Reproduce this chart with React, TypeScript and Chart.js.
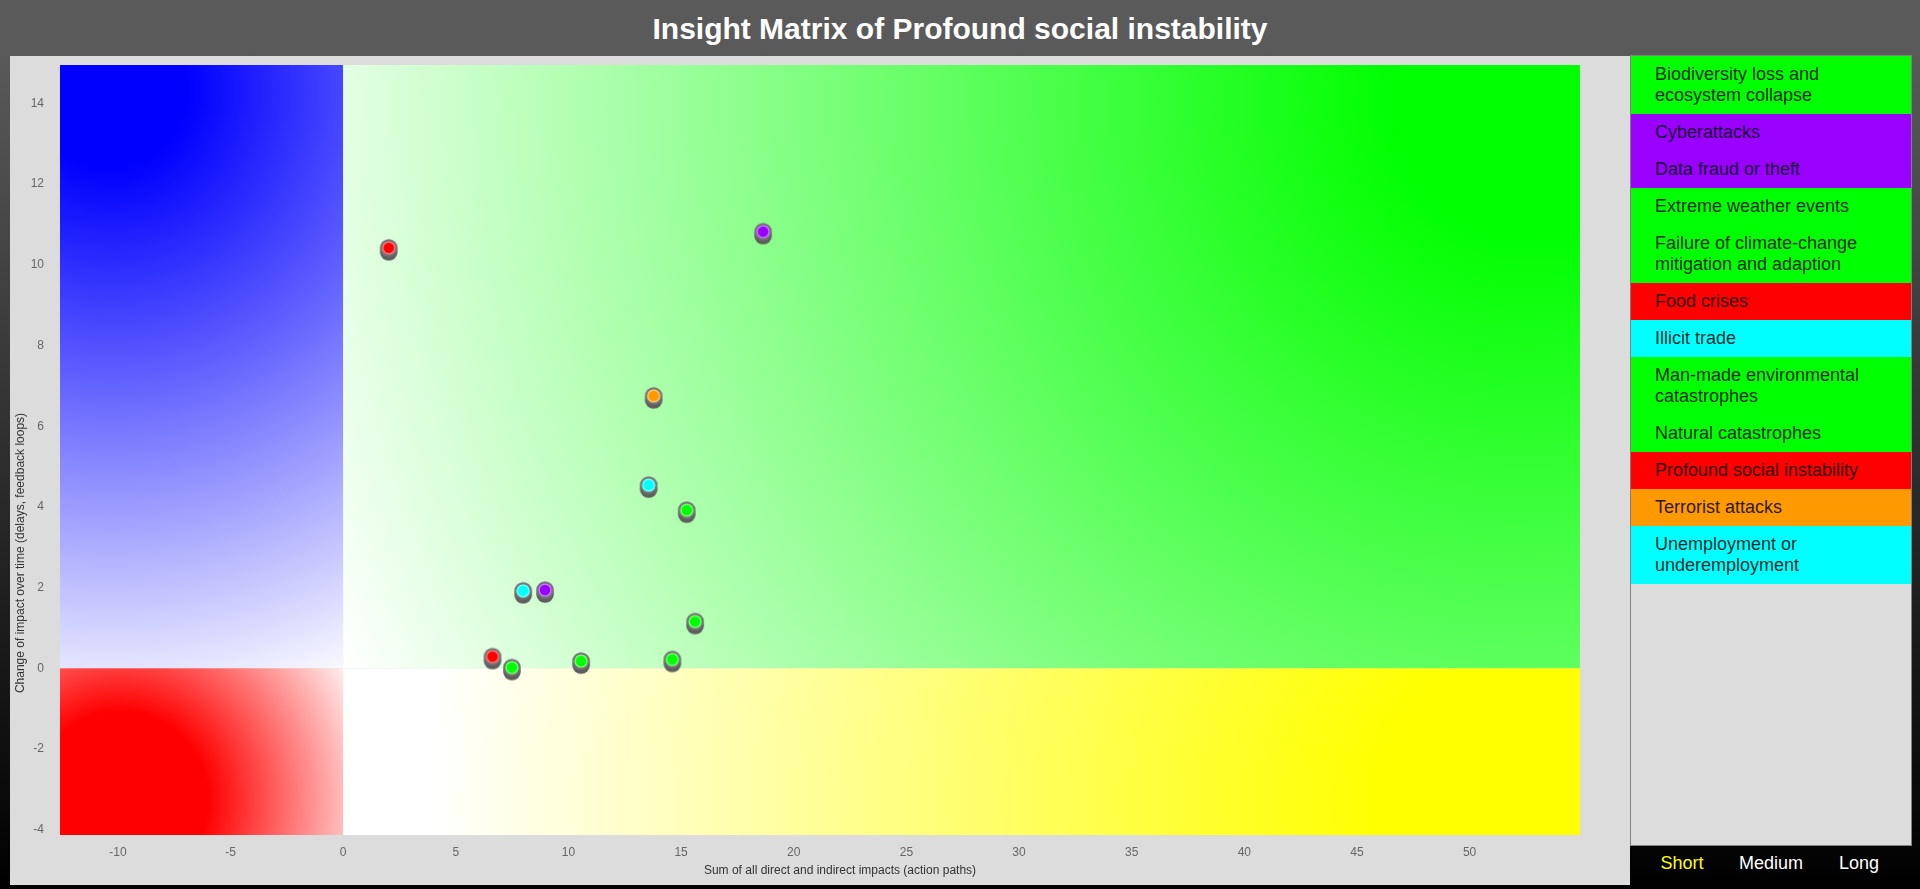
import React, { useEffect, useRef } from "react";
import { Chart, registerables } from "chart.js";

Chart.register(...registerables);

const FONT = "'Liberation Sans', Arial, Helvetica, sans-serif";

const CHART_TITLE = "Insight Matrix of Profound social instability";
const X_TITLE = "Sum of all direct and indirect impacts (action paths)";
const Y_TITLE = "Change of impact over time (delays, feedback loops)";

const RISKS = [
  "Biodiversity loss and ecosystem collapse",
  "Cyberattacks",
  "Data fraud or theft",
  "Extreme weather events",
  "Failure of climate-change mitigation and adaption",
  "Food crises",
  "Illicit trade",
  "Man-made environmental catastrophes",
  "Natural catastrophes",
  "Profound social instability",
  "Terrorist attacks",
  "Unemployment or underemployment",
];
const RISK_COLORS = [
  "#00ff00",
  "#9900ff",
  "#9900ff",
  "#00ff00",
  "#00ff00",
  "#ff0000",
  "#00ffff",
  "#00ff00",
  "#00ff00",
  "#ff0000",
  "#ff9900",
  "#00ffff",
];
const X_VALUES = [14.61, 18.64, 8.96, 15.25, 15.62, 6.63, 7.99, 10.56, 7.49, 2.02, 13.78, 13.56];
const Y_VALUES = [0.22, 10.82, 1.94, 3.92, 1.16, 0.29, 1.92, 0.18, 0.02, 10.42, 6.75, 4.54];

const X_MIN = -12.57;
const X_MAX = 54.9;
const X_STEP = 5;
const Y_MIN = -4.13;
const Y_MAX = 14.95;
const Y_STEP = 2;

const HORIZONS = ["Short", "Medium", "Long"];
const HORIZON_COLORS = ["#ffff00", "#ffffff", "#ffffff"];

function makeButton(color: string): HTMLCanvasElement {
  const c = document.createElement("canvas");
  c.width = 20;
  c.height = 30;
  const g = c.getContext("2d")!;
  const cx = 10;
  const cy = 15;
  g.fillStyle = "#5e5e5e";
  g.beginPath();
  g.arc(cx, cy + 4, 8.8, 0, Math.PI * 2);
  g.fill();
  g.fillStyle = "#747474";
  g.beginPath();
  g.arc(cx, cy, 8.8, 0, Math.PI * 2);
  g.fill();
  g.fillStyle = color;
  g.beginPath();
  g.arc(cx, cy, 6.6, 0, Math.PI * 2);
  g.fill();
  g.fillStyle = "rgba(255,255,255,0.5)";
  g.beginPath();
  g.arc(cx, cy, 6.6, 0, Math.PI * 2);
  g.fill();
  g.fillStyle = color;
  g.beginPath();
  g.arc(cx, cy, 5.3, 0, Math.PI * 2);
  g.fill();
  return c;
}

const quadrantPlugin = {
  id: "quadrants",
  beforeDatasetsDraw(chart: any) {
    const { ctx, chartArea: a, scales } = chart;
    const x0 = scales.x.getPixelForValue(0);
    const y0 = scales.y.getPixelForValue(0);
    const fillQuad = (
      rx: number, ry: number, rw: number, rh: number,
      cx: number, cy: number, r0: number, r1: number, color: string
    ) => {
      const g = ctx.createRadialGradient(cx, cy, 0, cx, cy, r1);
      g.addColorStop(0, color);
      g.addColorStop(r0 / r1, color);
      g.addColorStop(1, "#ffffff");
      ctx.fillStyle = g;
      ctx.fillRect(rx, ry, rw, rh);
    };
    ctx.save();
    fillQuad(a.left, a.top, x0 - a.left, y0 - a.top, a.left + 50, a.top + 25, 78, 637, "#0000ff");
    fillQuad(a.left, y0, x0 - a.left, a.bottom - y0, a.left + 60, a.bottom - 35, 88, 272, "#ff0000");
    fillQuad(x0, a.top, a.right - x0, y0 - a.top, a.right - 50, a.top + 35, 132, 1315, "#00ff00");
    fillQuad(x0, y0, a.right - x0, a.bottom - y0, a.right - 50, a.bottom - 35, 150, 1100, "#ffff00");
    ctx.restore();
  },
};

const axisTitlePlugin = {
  id: "axisTitles",
  afterDraw(chart: any) {
    const { ctx, chartArea: a } = chart;
    ctx.save();
    ctx.font = `12px ${FONT}`;
    ctx.fillStyle = "#333333";
    ctx.textAlign = "center";
    ctx.textBaseline = "middle";
    ctx.fillText(X_TITLE, (a.left + a.right) / 2 + 20, a.bottom + 36);
    ctx.translate(11, (a.top + a.bottom) / 2 + 103);
    ctx.rotate(-Math.PI / 2);
    ctx.fillText(Y_TITLE, 0, 0);
    ctx.restore();
  },
};

function MatrixChart() {
  const ref = useRef<HTMLCanvasElement | null>(null);
  useEffect(() => {
    if (!ref.current) return;
    Chart.defaults.font.family = FONT;
    const points = X_VALUES.map((x, i) => ({ x, y: Y_VALUES[i] }));
    const chart = new Chart(ref.current, {
      type: "scatter",
      data: {
        labels: RISKS,
        datasets: [
          {
            label: CHART_TITLE,
            data: points,
            pointStyle: RISK_COLORS.map(makeButton) as any,
            pointRadius: 8,
            pointHoverRadius: 8,
            backgroundColor: RISK_COLORS,
          },
        ],
      },
      options: {
        animation: false,
        responsive: false,
        devicePixelRatio: 1,
        layout: { padding: { top: 9, right: 50, left: 0, bottom: 0 } },
        plugins: {
          legend: { display: false },
          tooltip: { enabled: false },
          title: { display: false },
        },
        scales: {
          x: {
            type: "linear",
            min: X_MIN,
            max: X_MAX,
            afterFit: (s: any) => {
              s.height = 50;
              s.paddingLeft = 0;
              s.paddingRight = 0;
            },
            grid: { display: false, drawTicks: false },
            border: { display: false },
            ticks: {
              stepSize: X_STEP,
              includeBounds: false,
              padding: 10,
              color: "#666666",
              maxRotation: 0,
              font: { size: 12, family: FONT },
            },
          },
          y: {
            type: "linear",
            min: Y_MIN,
            max: Y_MAX,
            afterFit: (s: any) => {
              s.width = 50;
              s.paddingTop = 0;
              s.paddingBottom = 0;
            },
            grid: { display: false, drawTicks: false },
            border: { display: false },
            ticks: {
              stepSize: Y_STEP,
              includeBounds: false,
              padding: 16,
              color: "#666666",
              font: { size: 12, family: FONT },
            },
          },
        },
      } as any,
      plugins: [quadrantPlugin, axisTitlePlugin],
    });
    return () => chart.destroy();
  }, []);
  return <canvas ref={ref} width={1620} height={829} style={{ display: "block" }} />;
}

export default function App() {
  return (
    <div
      style={{
        position: "fixed",
        left: 0,
        top: 0,
        width: 1920,
        height: 889,
        overflow: "hidden",
        background: "linear-gradient(to bottom, #5a5a5a 0px, #5a5a5a 50px, #000000 889px)",
        fontFamily: FONT,
      }}
    >
      <div
        style={{
          position: "absolute",
          left: 0,
          top: 14,
          width: 1920,
          textAlign: "center",
          color: "#ffffff",
          fontWeight: "bold",
          fontSize: 30,
          lineHeight: "30px",
        }}
      >
        {CHART_TITLE}
      </div>
      <div
        style={{
          position: "absolute",
          left: 10,
          top: 56,
          width: 1620,
          height: 829,
          background: "#dcdcdc",
        }}
      >
        <MatrixChart />
      </div>
      <div
        style={{
          position: "absolute",
          left: 1630,
          top: 55,
          width: 282,
          height: 791,
          boxSizing: "border-box",
          border: "1px solid #808080",
          background: "#dcdcdc",
        }}
      >
        {RISKS.map((r, i) => (
          <div
            key={r}
            style={{
              background: RISK_COLORS[i],
              padding: "8px 10px 8px 24px",
              fontSize: 18,
              lineHeight: "21px",
              color: "rgba(0,0,0,0.85)",
            }}
          >
            {r}
          </div>
        ))}
      </div>
      {HORIZONS.map((h, i) => (
        <div
          key={h}
          style={{
            position: "absolute",
            left: [1682, 1771, 1859][i] - 50,
            top: 853,
            width: 100,
            textAlign: "center",
            fontSize: 18,
            lineHeight: "21px",
            color: HORIZON_COLORS[i],
          }}
        >
          {h}
        </div>
      ))}
    </div>
  );
}
